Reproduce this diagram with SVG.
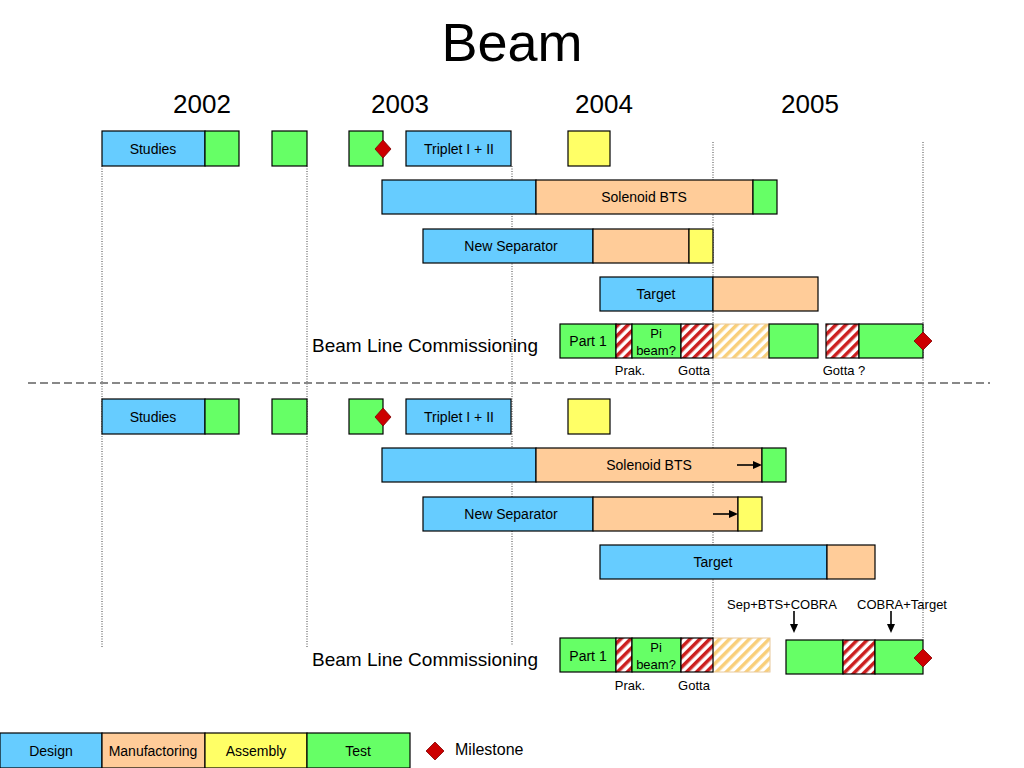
<svg xmlns="http://www.w3.org/2000/svg" width="1024" height="768" viewBox="0 0 1024 768">
<defs>
<pattern id="redHatch" width="7" height="7" patternUnits="userSpaceOnUse" patternTransform="rotate(45)">
<rect width="7" height="7" fill="#ffffff"/>
<rect width="3.5" height="7" fill="#cc1f1f"/>
</pattern>
<pattern id="orgHatch" width="7" height="7" patternUnits="userSpaceOnUse" patternTransform="rotate(45)">
<rect width="7" height="7" fill="#ffffff"/>
<rect width="3.5" height="7" fill="#f9cf7a"/>
</pattern>
</defs>
<style>
text{font-family:"Liberation Sans","DejaVu Sans",sans-serif;fill:#000}
.b{stroke:#000;stroke-width:1.2}
.d{fill:#66ccff}
.m{fill:#ffcc99}
.a{fill:#ffff66}
.t{fill:#66ff66}
.rh{fill:url(#redHatch)}
.oh{fill:url(#orgHatch);stroke:#e8c89a;stroke-width:1}
.lbl{font-size:14px;text-anchor:middle}
.sm{font-size:13px;text-anchor:middle}
.yr{font-size:26px;text-anchor:middle}
.blc{font-size:19px}
.ms{fill:#cc0000;stroke:#800000;stroke-width:0.8}
.vl{stroke:#444;stroke-width:1;stroke-dasharray:1 1.5}
.arr{stroke:#000;stroke-width:1.6;fill:none}
</style>
<rect width="1024" height="768" fill="#ffffff"/>
<text x="512" y="61" font-size="54" text-anchor="middle">Beam</text>
<g id="years">
<text class="yr" x="202" y="113">2002</text>
<text class="yr" x="400" y="113">2003</text>
<text class="yr" x="604" y="113">2004</text>
<text class="yr" x="810" y="113">2005</text>
</g>
<g id="gridlines">
<line class="vl" x1="102" y1="166" x2="102" y2="647"/>
<line class="vl" x1="307" y1="166" x2="307" y2="647"/>
<line class="vl" x1="512" y1="166" x2="512" y2="645"/>
<line class="vl" x1="713" y1="142" x2="713" y2="640"/>
<line class="vl" x1="923" y1="142" x2="923" y2="640"/>
<line x1="28" y1="383" x2="990" y2="383" stroke="#888" stroke-width="2" stroke-dasharray="8 4"/>
</g>

<!-- TOP SECTION -->
<g id="top-studies">
<rect class="b d" x="102" y="131" width="103" height="35"/>
<rect class="b t" x="205" y="131" width="34" height="35"/>
<text class="lbl" x="153" y="154">Studies</text>
</g>
<g id="top-test2"><rect class="b t" x="272" y="131" width="35" height="35"/></g>
<g id="top-test3"><rect class="b t" x="349" y="131" width="34" height="35"/>
<polygon class="ms" points="383,140 391,149 383,158 375,149"/></g>
<g id="top-triplet">
<rect class="b d" x="406" y="131" width="105" height="35"/>
<text class="lbl" x="459" y="154">Triplet I + II</text>
</g>
<g id="top-asm"><rect class="b a" x="568" y="131" width="42" height="35"/></g>
<g id="top-solenoid">
<rect class="b d" x="382" y="180" width="154" height="34"/>
<rect class="b m" x="536" y="180" width="217" height="34"/>
<rect class="b t" x="753" y="180" width="24" height="34"/>
<text class="lbl" x="644" y="202">Solenoid BTS</text>
</g>
<g id="top-separator">
<rect class="b d" x="423" y="229" width="170" height="34"/>
<rect class="b m" x="593" y="229" width="96" height="34"/>
<rect class="b a" x="689" y="229" width="24" height="34"/>
<text class="lbl" x="511" y="251">New Separator</text>
</g>
<g id="top-target">
<rect class="b d" x="600" y="277" width="113" height="34"/>
<rect class="b m" x="713" y="277" width="105" height="34"/>
<text class="lbl" x="656" y="299">Target</text>
</g>
<g id="top-commissioning">
<text class="blc" x="312" y="352">Beam Line Commissioning</text>
<rect class="oh" x="713" y="324" width="56" height="34"/>
<rect class="b t" x="560" y="324" width="56" height="34"/>
<rect class="b rh" x="616" y="324" width="16" height="34"/>
<rect class="b t" x="632" y="324" width="49" height="34"/>
<rect class="b rh" x="681" y="324" width="32" height="34"/>
<rect class="b t" x="769" y="324" width="49" height="34"/>
<rect class="b rh" x="826" y="324" width="33" height="34"/>
<rect class="b t" x="859" y="324" width="64" height="34"/>
<polygon class="ms" points="923,332 932,341 923,350 914,341"/>
<text class="lbl" x="588" y="346">Part 1</text>
<text class="sm" x="656" y="338">Pi</text>
<text class="sm" x="656" y="355">beam?</text>
<text class="sm" x="630" y="375">Prak.</text>
<text class="sm" x="694" y="375">Gotta</text>
<text class="sm" x="844" y="375">Gotta ?</text>
</g>

<!-- BOTTOM SECTION -->
<g id="bot-studies">
<rect class="b d" x="102" y="399" width="103" height="35"/>
<rect class="b t" x="205" y="399" width="34" height="35"/>
<text class="lbl" x="153" y="422">Studies</text>
</g>
<g id="bot-test2"><rect class="b t" x="272" y="399" width="35" height="35"/></g>
<g id="bot-test3"><rect class="b t" x="349" y="399" width="34" height="35"/>
<polygon class="ms" points="383,408 391,417 383,426 375,417"/></g>
<g id="bot-triplet">
<rect class="b d" x="406" y="399" width="105" height="35"/>
<text class="lbl" x="459" y="422">Triplet I + II</text>
</g>
<g id="bot-asm"><rect class="b a" x="568" y="399" width="42" height="35"/></g>
<g id="bot-solenoid">
<rect class="b d" x="382" y="448" width="154" height="34"/>
<rect class="b m" x="536" y="448" width="226" height="34"/>
<rect class="b t" x="762" y="448" width="24" height="34"/>
<text class="lbl" x="649" y="470">Solenoid BTS</text>
</g>
<g id="bot-separator">
<rect class="b d" x="423" y="497" width="170" height="34"/>
<rect class="b m" x="593" y="497" width="145" height="34"/>
<rect class="b a" x="738" y="497" width="24" height="34"/>
<text class="lbl" x="511" y="519">New Separator</text>
</g>
<g id="bot-target">
<rect class="b d" x="600" y="545" width="227" height="34"/>
<rect class="b m" x="827" y="545" width="48" height="34"/>
<text class="lbl" x="713" y="567">Target</text>
</g>
<g id="bot-commissioning">
<text class="blc" x="312" y="666">Beam Line Commissioning</text>
<rect class="oh" x="713" y="638" width="57" height="34"/>
<rect class="b t" x="560" y="638" width="56" height="34"/>
<rect class="b rh" x="616" y="638" width="16" height="34"/>
<rect class="b t" x="632" y="638" width="49" height="34"/>
<rect class="b rh" x="681" y="638" width="32" height="34"/>
<rect class="b t" x="786" y="640" width="57" height="34"/>
<rect class="b rh" x="843" y="640" width="32" height="34"/>
<rect class="b t" x="875" y="640" width="48" height="34"/>
<polygon class="ms" points="923,649 932,658 923,667 914,658"/>
<text class="lbl" x="588" y="661">Part 1</text>
<text class="sm" x="656" y="652">Pi</text>
<text class="sm" x="656" y="669">beam?</text>
<text class="sm" x="630" y="690">Prak.</text>
<text class="sm" x="694" y="690">Gotta</text>
<text class="sm" x="782" y="609">Sep+BTS+COBRA</text>
<text class="sm" x="902" y="609">COBRA+Target</text>
</g>

<g id="connectors">
<line class="arr" x1="737" y1="465" x2="755" y2="465"/>
<polygon points="762,465 753,461 753,469" fill="#000"/>
<line class="arr" x1="713" y1="514" x2="731" y2="514"/>
<polygon points="738,514 729,510 729,518" fill="#000"/>
<line class="arr" x1="794" y1="611" x2="794" y2="626"/>
<polygon points="794,633 790,624 798,624" fill="#000"/>
<line class="arr" x1="891" y1="611" x2="891" y2="626"/>
<polygon points="891,633 887,624 895,624" fill="#000"/>
</g>

<g id="legend">
<rect class="b d" x="0" y="733" width="102" height="35"/>
<rect class="b m" x="102" y="733" width="103" height="35"/>
<rect class="b a" x="205" y="733" width="102" height="35"/>
<rect class="b t" x="307" y="733" width="103" height="35"/>
<text class="lbl" x="51" y="756">Design</text>
<text class="lbl" x="153" y="756">Manufactoring</text>
<text class="lbl" x="256" y="756">Assembly</text>
<text class="lbl" x="358" y="756">Test</text>
<polygon class="ms" points="435,742 444,751 435,760 426,751"/>
<text x="455" y="755" font-size="16">Milestone</text>
</g>
</svg>
